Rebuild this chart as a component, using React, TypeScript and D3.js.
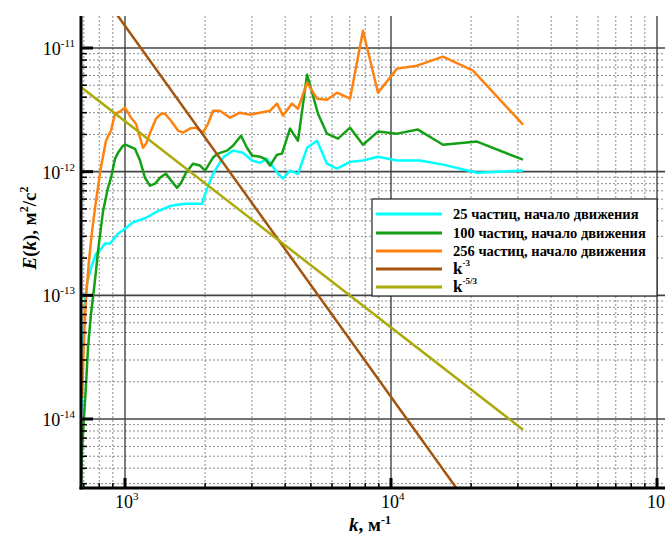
import { useEffect, useRef } from "react";
import * as d3 from "d3";

// wave numbers (1/m) and spectra (m^2/s^2)
const kCyan = [683, 689, 695, 707, 720, 745, 778, 805, 841, 878, 941, 1009, 1072, 1189, 1331, 1489, 1681, 1833, 1948, 2000, 2142, 2335, 2547, 2777, 3003, 3217, 3419, 3760, 3926, 4173, 4472, 4834, 5271, 5745, 6266, 7016, 7847, 8936, 10535, 12853, 15685, 21054, 31350];
const eCyan = [1.12e-14, 1.54e-14, 4.07e-14, 9.05e-14, 1.24e-13, 1.67e-13, 2.17e-13, 2.3e-13, 2.62e-13, 2.62e-13, 3.15e-13, 3.5e-13, 3.9e-13, 4.2e-13, 4.8e-13, 5.3e-13, 5.5e-13, 5.5e-13, 5.5e-13, 6.6e-13, 9.6e-13, 1.3e-12, 1.48e-12, 1.42e-12, 1.23e-12, 1.18e-12, 1.27e-12, 9.6e-13, 8.8e-13, 1.02e-12, 9.6e-13, 1.56e-12, 1.78e-12, 1.16e-12, 1.06e-12, 1.2e-12, 1.23e-12, 1.32e-12, 1.23e-12, 1.23e-12, 1.14e-12, 9.8e-13, 1.02e-12];

const kGreen = [683, 689, 714, 726, 745, 758, 778, 792, 827, 863, 886, 917, 941, 983, 1009, 1090, 1139, 1189, 1242, 1297, 1366, 1426, 1489, 1569, 1624, 1696, 1801, 1914, 2000, 2142, 2236, 2418, 2547, 2730, 2875, 3003, 3217, 3360, 3509, 3727, 3892, 4173, 4472, 4834, 5317, 5745, 6321, 7016, 7847, 8936, 10535, 12634, 15685, 21054, 31350];
const eGreen = [2.5e-15, 5.6e-15, 1.93e-14, 3.78e-14, 7.1e-14, 9.6e-14, 1.58e-13, 2.3e-13, 4.8e-13, 7.4e-13, 8.9e-13, 1.27e-12, 1.42e-12, 1.62e-12, 1.65e-12, 1.53e-12, 1.23e-12, 8.9e-13, 7.7e-13, 8.0e-13, 9.1e-13, 9.6e-13, 8.5e-13, 7.4e-13, 8.1e-13, 9.8e-13, 1.16e-12, 1.12e-12, 1.02e-12, 1.3e-12, 1.4e-12, 1.48e-12, 1.62e-12, 1.95e-12, 1.56e-12, 1.35e-12, 1.32e-12, 1.27e-12, 1.12e-12, 1.37e-12, 1.4e-12, 2.23e-12, 1.78e-12, 6.09e-12, 2.94e-12, 2.03e-12, 1.85e-12, 2.27e-12, 1.65e-12, 2.11e-12, 2.03e-12, 2.19e-12, 1.65e-12, 1.75e-12, 1.25e-12];

const kOrange = [689, 701, 714, 732, 752, 778, 812, 848, 886, 917, 958, 1000, 1053, 1100, 1139, 1169, 1199, 1253, 1308, 1366, 1414, 1489, 1582, 1652, 1755, 1849, 1965, 2051, 2142, 2275, 2482, 2706, 2951, 3217, 3509, 3727, 3926, 4246, 4472, 4834, 5271, 5745, 6266, 7016, 7847, 8936, 10535, 12525, 15685, 20340, 31350];
const eOrange = [1.49e-14, 4.3e-14, 9.76e-14, 1.9e-13, 3.3e-13, 5.8e-13, 1.08e-12, 1.78e-12, 2.15e-12, 2.94e-12, 3.06e-12, 3.29e-12, 2.73e-12, 2.44e-12, 1.88e-12, 1.56e-12, 1.68e-12, 2.15e-12, 2.68e-12, 2.94e-12, 2.94e-12, 2.58e-12, 2.15e-12, 2.07e-12, 2.23e-12, 2.27e-12, 2.07e-12, 2.44e-12, 3.11e-12, 3.11e-12, 2.73e-12, 3.0e-12, 2.89e-12, 3.0e-12, 3.11e-12, 3.55e-12, 2.84e-12, 3.55e-12, 3.23e-12, 5.24e-12, 3.89e-12, 3.82e-12, 4.35e-12, 3.89e-12, 1.38e-11, 4.35e-12, 6.81e-12, 7.2e-12, 8.51e-12, 6.56e-12, 2.4e-12];

// power-law guide lines, end points
const kRef = [683, 31350];
const eK3 = [4.74e-11, 4.9e-16];
const eK53 = [4.83e-12, 8.2e-15];

const xDecades = [1e3, 1e4, 1e5];
const xDecadeExp = ["3", "4", "5"];
const yDecades = [1e-11, 1e-12, 1e-13, 1e-14];
const yDecadeExp = ["-11", "-12", "-13", "-14"];

const seriesNames = [
  "25 частиц, начало движения",
  "100 частиц, начало движения",
  "256 частиц, начало движения",
];
const seriesColors = ["#00ffff", "#14a014", "#ff8210", "#a3540f", "#aaaa08"];

function App() {
  const svgRef = useRef<SVGSVGElement>(null);
  const width = 665;
  const height = 537;
  const margin = { top: 16, bottom: 49, left: 81, right: 0 };

  useEffect(() => {
    const svg = d3.select(svgRef.current);
    svg.selectAll("*").remove();

    const x0 = margin.left, x1 = width - margin.right;
    const y0 = margin.top, y1 = height - margin.bottom;

    // 10^3 -> 125px, 10^5 -> 657px
    const xScale = d3.scaleLog().domain([1e3, 1e5]).range([125, 657]);
    const yScale = d3.scaleLog().domain([1e-11, 1e-14]).range([48, 419]);

    const xMin = xScale.invert(x0), xMax = xScale.invert(x1);
    const yMax = yScale.invert(y0), yMin = yScale.invert(y1);

    const xMinor: number[] = [];
    for (let d = 100; d <= 1e5; d *= 10)
      for (let m = 2; m <= 9; m++)
        if (d * m > xMin && d * m < xMax) xMinor.push(d * m);
    const yMinor: number[] = [];
    for (let d = 1e-15; d <= 1e-11; d *= 10)
      for (let m = 2; m <= 9; m++)
        if (d * m > yMin && d * m < yMax) yMinor.push(d * m);

    const grid = svg.append("g");
    // minor grid, dotted
    grid.selectAll(".xm").data(xMinor).enter().append("line")
      .attr("x1", d => xScale(d)).attr("x2", d => xScale(d))
      .attr("y1", y0).attr("y2", y1)
      .attr("stroke", "#8c8c8c").attr("stroke-width", 1)
      .attr("stroke-dasharray", "2,2");
    grid.selectAll(".ym").data(yMinor).enter().append("line")
      .attr("x1", x0).attr("x2", x1)
      .attr("y1", d => yScale(d)).attr("y2", d => yScale(d))
      .attr("stroke", "#8c8c8c").attr("stroke-width", 1)
      .attr("stroke-dasharray", "2,2");
    // major grid
    grid.selectAll(".xM").data(xDecades).enter().append("line")
      .attr("x1", d => xScale(d)).attr("x2", d => xScale(d))
      .attr("y1", y0).attr("y2", y1)
      .attr("stroke", "#444").attr("stroke-width", 1.4);
    grid.selectAll(".yM").data(yDecades).enter().append("line")
      .attr("x1", x0).attr("x2", x1)
      .attr("y1", d => yScale(d)).attr("y2", d => yScale(d))
      .attr("stroke", "#444").attr("stroke-width", 1.6);

    // curves
    svg.append("clipPath").attr("id", "plotClip")
      .append("rect").attr("x", x0).attr("y", y0)
      .attr("width", x1 - x0).attr("height", y1 - y0);

    const line = d3.line<[number, number]>()
      .x(d => xScale(d[0]))
      .y(d => yScale(d[1]));

    const series: [number[], number[]][] = [
      [kCyan, eCyan], [kGreen, eGreen], [kOrange, eOrange], [kRef, eK3], [kRef, eK53],
    ];
    const curves = svg.append("g").attr("clip-path", "url(#plotClip)");
    series.forEach(([ks, es], i) => {
      curves.append("path")
        .datum(ks.map((k, j) => [k, es[j]] as [number, number]))
        .attr("fill", "none")
        .attr("stroke", seriesColors[i])
        .attr("stroke-width", 2.5)
        .attr("stroke-linejoin", "round")
        .attr("d", line);
    });

    // axes
    const axes = svg.append("g");
    axes.append("line").attr("x1", x0).attr("x2", x0).attr("y1", y0).attr("y2", y1 + 1.5)
      .attr("stroke", "#000").attr("stroke-width", 3);
    axes.append("line").attr("x1", x0 - 1.5).attr("x2", x1).attr("y1", y1).attr("y2", y1)
      .attr("stroke", "#000").attr("stroke-width", 3);
    axes.selectAll(".ytM").data(yDecades).enter().append("line")
      .attr("x1", x0).attr("x2", x0 + 12)
      .attr("y1", d => yScale(d)).attr("y2", d => yScale(d))
      .attr("stroke", "#000").attr("stroke-width", 3);
    axes.selectAll(".ytm").data(yMinor).enter().append("line")
      .attr("x1", x0).attr("x2", x0 + 6)
      .attr("y1", d => yScale(d)).attr("y2", d => yScale(d))
      .attr("stroke", "#000").attr("stroke-width", 1.5);
    axes.selectAll(".xtM").data(xDecades).enter().append("line")
      .attr("x1", d => xScale(d)).attr("x2", d => xScale(d))
      .attr("y1", y1).attr("y2", y1 - 10)
      .attr("stroke", "#000").attr("stroke-width", 3);
    axes.selectAll(".xtm").data(xMinor).enter().append("line")
      .attr("x1", d => xScale(d)).attr("x2", d => xScale(d))
      .attr("y1", y1).attr("y2", y1 - 5)
      .attr("stroke", "#000").attr("stroke-width", 1.5);

    const font = "'Liberation Serif', 'Times New Roman', serif";

    // tick labels
    yDecades.forEach((d, i) => {
      const t = axes.append("text")
        .attr("x", 75).attr("y", yScale(d) + 7)
        .attr("text-anchor", "end")
        .attr("font-family", font).attr("fill", "#000");
      t.append("tspan").attr("font-size", 18).text("10");
      t.append("tspan").attr("font-size", 11).attr("dy", -8).text(yDecadeExp[i]);
    });
    xDecades.forEach((d, i) => {
      const t = axes.append("text")
        .attr("x", xScale(d) - 10).attr("y", 508)
        .attr("font-family", font).attr("fill", "#000");
      t.append("tspan").attr("font-size", 18).text("10");
      t.append("tspan").attr("font-size", 11).attr("dy", -8).text(xDecadeExp[i]);
    });

    // axis titles
    const xt = svg.append("text")
      .attr("x", 370).attr("y", 531).attr("text-anchor", "middle")
      .attr("font-family", font).attr("font-weight", "bold").attr("font-size", 19);
    xt.append("tspan").attr("font-style", "italic").text("k");
    xt.append("tspan").text(", м");
    xt.append("tspan").attr("font-size", 12).attr("dy", -7).text("-1");

    const yt = svg.append("text")
      .attr("transform", "translate(36,228) rotate(-90)").attr("text-anchor", "middle")
      .attr("font-family", font).attr("font-weight", "bold").attr("font-size", 19);
    yt.append("tspan").attr("font-style", "italic").text("E");
    yt.append("tspan").text("(");
    yt.append("tspan").attr("font-style", "italic").text("k");
    yt.append("tspan").text("), м");
    yt.append("tspan").attr("font-size", 12).attr("dy", -8).text("2");
    yt.append("tspan").attr("font-size", 19).attr("dy", 8).text("/с");
    yt.append("tspan").attr("font-size", 12).attr("dy", -8).text("2");

    // legend
    const lg = svg.append("g");
    lg.append("rect").attr("x", 372).attr("y", 199).attr("width", 285).attr("height", 97)
      .attr("fill", "#fff").attr("stroke", "#222").attr("stroke-width", 1.2);
    const rows = [214, 233, 251, 269, 287];
    rows.forEach((ry, i) => {
      lg.append("line").attr("x1", 376).attr("x2", 442).attr("y1", ry).attr("y2", ry)
        .attr("stroke", seriesColors[i]).attr("stroke-width", 3);
      const t = lg.append("text").attr("x", 453).attr("y", ry + 5)
        .attr("font-family", font).attr("font-weight", "bold").attr("font-size", 14.5);
      if (i < 3) {
        t.text(seriesNames[i]);
      } else {
        t.append("tspan").attr("font-size", 17).text("k");
        t.append("tspan").attr("font-size", 9).attr("dy", -8).text(i === 3 ? "-3" : "-5/3");
      }
    });
  }, []);

  return (
    <div>
      <svg ref={svgRef} width={width} height={height}
        style={{ position: "absolute", left: 0, top: 0, background: "#fff" }} />
    </div>
  );
}

export default App;
